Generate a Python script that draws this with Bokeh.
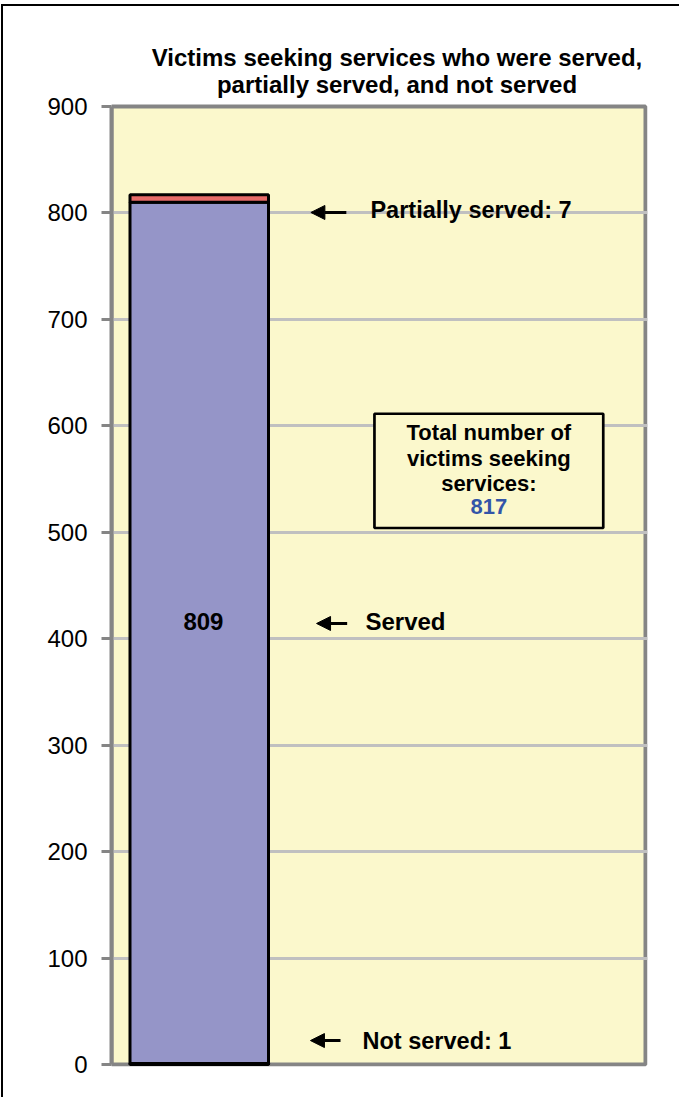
from bokeh.plotting import figure
from bokeh.models import Range1d, Label, Arrow, NormalHead, BoxAnnotation, ColumnDataSource
from bokeh.embed import file_html
from bokeh.resources import INLINE

categories = ["Victims"]
stack_names = ["Not served", "Served", "Partially served"]
not_served = [1]
served = [809]
partially_served = [7]
total = [817]
y_ticks = [0, 100, 200, 300, 400, 500, 600, 700, 800, 900]
title_lines = ["Victims seeking services who were served,", "partially served, and not served"]
box_lines = ["Total number of", "victims seeking", "services:"]

FONT = "Liberation Sans"
BG = "#FBF8CC"
GRAY = "#858585"

src = ColumnDataSource(dict(x=[0], not_served=not_served, served=served, partial=partially_served))

p = figure(width=678, height=1093, output_backend="svg", toolbar_location=None,
           x_range=Range1d(-0.6336, 3.2365), y_range=Range1d(-1.88, 993.9),
           min_border_left=108, min_border_right=34, min_border_top=0, min_border_bottom=33)
p.styles = {"border-left": "2px solid black", "border-top": "2px solid black",
            "margin-left": "1px", "margin-top": "4px"}
p.background_fill_color = "white"
p.border_fill_color = "white"
p.outline_line_color = None

# plot area background with gray border
p.add_layout(BoxAnnotation(bottom=min(y_ticks), top=max(y_ticks), right=3.222,
                           fill_color=BG, fill_alpha=1, line_color=GRAY, line_alpha=1,
                           line_width=4, level="image"))

p.vbar_stack(["not_served", "served", "partial"], x="x", width=1, source=src,
             color=["#9595C8", "#9595C8", "#E66B69"], line_color="black", line_width=3)

p.xaxis.visible = False
p.xgrid.visible = False
p.ygrid.ticker = y_ticks[1:-1]
p.ygrid.grid_line_color = "#C0C0C0"
p.ygrid.grid_line_width = 3
p.yaxis.ticker = y_ticks
p.yaxis.bounds = (min(y_ticks), max(y_ticks))
p.yaxis.axis_line_color = GRAY
p.yaxis.axis_line_width = 4
p.yaxis.major_tick_line_color = GRAY
p.yaxis.major_tick_line_width = 3
p.yaxis.major_tick_out = 10
p.yaxis.major_tick_in = 0
p.yaxis.minor_tick_line_color = None
p.yaxis.major_label_text_font = FONT
p.yaxis.major_label_text_font_size = "24px"
p.yaxis.major_label_text_color = "black"
p.yaxis.major_label_standoff = 14

def lab(x, y, text, size="23.5px", color="black", align="left", bold=True):
    p.add_layout(Label(x=x, y=y, text=text, text_font=FONT, text_font_size=size,
                       text_font_style="bold" if bold else "normal", text_color=color,
                       text_align=align, text_baseline="middle"))

# title
lab(1.428, 946.0, title_lines[0], size="24px", align="center")
lab(1.428, 920.7, title_lines[1], size="24px", align="center")

# arrows + callouts
for (x0, x1, y) in [(1.062, 0.806, 800.4), (1.068, 0.847, 414.3), (1.020, 0.803, 22.5)]:
    p.add_layout(Arrow(x_start=x0, y_start=y, x_end=x1, y_end=y, line_width=3, line_color="black",
                       end=NormalHead(size=14, fill_color="black", line_color="black")))

lab(1.236, 802.3, f"{stack_names[2]}: {partially_served[0]}")
lab(1.200, 416.5, stack_names[1], size="24px")
lab(1.179, 22.5, f"{stack_names[0]}: {not_served[0]}")
lab(0.03, 416.6, str(served[0]), size="24px", align="center")

# total box
p.add_layout(BoxAnnotation(left=1.265, right=2.917, bottom=504.0, top=611.3,
                           fill_color=BG, fill_alpha=1, line_color="black", line_alpha=1,
                           line_width=2.7, level="guide"))
for yy, t in zip([593.7, 569.3, 545.8], box_lines):
    lab(2.091, yy, t, size="22px", align="center")
lab(2.091, 523.8, str(total[0]), size="22px", color="#3355A8", align="center")

open("out.html", "w").write(file_html(p, INLINE))
